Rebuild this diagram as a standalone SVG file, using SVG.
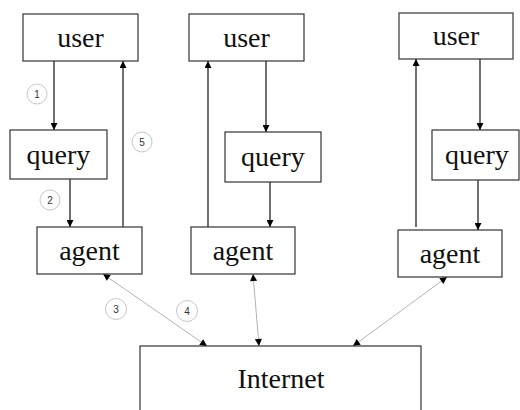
<svg xmlns="http://www.w3.org/2000/svg" width="520" height="410" viewBox="0 0 520 410">
<defs>
<style>
.box{fill:#fff;stroke:#333;stroke-width:1.2}
.lbl{font-family:"Liberation Serif","Times New Roman",serif;font-size:28px;fill:#111;text-anchor:middle}
.num circle{fill:#fff;stroke:#c8c8c8;stroke-width:1}
.num text{font-family:"Liberation Sans",Arial,sans-serif;font-size:10px;fill:#333;text-anchor:middle}
.v{stroke:#111;stroke-width:1.2;fill:none}
.d{stroke:#aaa;stroke-width:0.9;fill:none}
</style>
<marker id="ah" viewBox="0 0 10 10" refX="10" refY="5" markerWidth="10" markerHeight="7" markerUnits="userSpaceOnUse" orient="auto">
<path d="M0,0 L10,5 L0,10 Z" fill="#000"/>
</marker>
<marker id="as" viewBox="0 0 10 10" refX="0" refY="5" markerWidth="10" markerHeight="7" markerUnits="userSpaceOnUse" orient="auto">
<path d="M10,0 L0,5 L10,10 Z" fill="#000"/>
</marker>
</defs>
<rect width="520" height="410" fill="#fff"/>
<g id="connectors">
<line class="v" x1="54" y1="61" x2="54" y2="130" marker-end="url(#ah)"/>
<line class="v" x1="70" y1="179" x2="70" y2="227" marker-end="url(#ah)"/>
<line class="v" x1="123" y1="227" x2="123" y2="61" marker-end="url(#ah)"/>
<line class="v" x1="266" y1="61" x2="266" y2="132" marker-end="url(#ah)"/>
<line class="v" x1="270" y1="182" x2="270" y2="227" marker-end="url(#ah)"/>
<line class="v" x1="208" y1="227" x2="208" y2="61" marker-end="url(#ah)"/>
<line class="v" x1="480" y1="59" x2="480" y2="130" marker-end="url(#ah)"/>
<line class="v" x1="478" y1="180" x2="478" y2="230" marker-end="url(#ah)"/>
<line class="v" x1="416" y1="227" x2="416" y2="59" marker-end="url(#ah)"/>
<line class="d" x1="103" y1="274" x2="207" y2="346" marker-start="url(#as)" marker-end="url(#ah)"/>
<line class="d" x1="253" y1="274" x2="259" y2="346" marker-start="url(#as)" marker-end="url(#ah)"/>
<line class="d" x1="447" y1="277" x2="353" y2="346" marker-start="url(#as)" marker-end="url(#ah)"/>
</g>
<g id="user1"><rect class="box" x="23" y="14" width="115" height="47"/><text class="lbl" x="80.5" y="47">user</text></g>
<g id="query1"><rect class="box" x="10" y="130" width="97" height="49"/><text class="lbl" x="58.5" y="164">query</text></g>
<g id="agent1"><rect class="box" x="37" y="227" width="105" height="47"/><text class="lbl" x="89.5" y="260">agent</text></g>
<g id="user2"><rect class="box" x="189" y="14" width="115" height="47"/><text class="lbl" x="246.5" y="47">user</text></g>
<g id="query2"><rect class="box" x="225" y="132" width="96" height="50"/><text class="lbl" x="273" y="166">query</text></g>
<g id="agent2"><rect class="box" x="191" y="227" width="104" height="47"/><text class="lbl" x="243" y="260">agent</text></g>
<g id="user3"><rect class="box" x="399" y="13" width="114" height="46"/><text class="lbl" x="456" y="45">user</text></g>
<g id="query3"><rect class="box" x="432" y="130" width="87" height="50"/><text class="lbl" x="477" y="164">query</text></g>
<g id="agent3"><rect class="box" x="398" y="230" width="104" height="47"/><text class="lbl" x="450" y="263">agent</text></g>
<g id="internet"><rect class="box" x="140" y="346" width="281" height="70"/><text class="lbl" x="281" y="388">Internet</text></g>
<g id="step1" class="num"><circle cx="37" cy="94" r="10"/><text x="37" y="97.5">1</text></g>
<g id="step2" class="num"><circle cx="50" cy="200" r="10"/><text x="50" y="203.5">2</text></g>
<g id="step3" class="num"><circle cx="116" cy="309" r="10.5"/><text x="116" y="312.5">3</text></g>
<g id="step4" class="num"><circle cx="187" cy="311" r="10.5"/><text x="187" y="314.5">4</text></g>
<g id="step5" class="num"><circle cx="142" cy="142" r="10"/><text x="142" y="145.5">5</text></g>
</svg>
